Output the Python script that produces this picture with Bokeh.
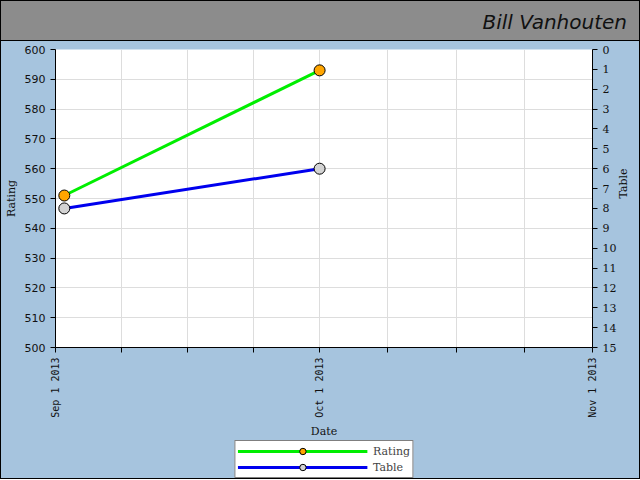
from datetime import datetime
import math
from bokeh.plotting import figure
from bokeh.models import (Range1d, LinearAxis, FixedTicker, Legend, LegendItem, Div)
from bokeh.layouts import column
from bokeh.embed import file_html
from bokeh.resources import INLINE

# ---- data ----
title_text = "Bill Vanhouten"
dates = [datetime(2013, 9, 2), datetime(2013, 10, 1)]
rating = [551, 593]
table = [8, 6]
month_starts = [datetime(2013, 9, 1), datetime(2013, 10, 1), datetime(2013, 11, 1)]
month_labels = ["Sep 1 2013", "Oct 1 2013", "Nov 1 2013"]
rating_ticks = list(range(500, 601, 10))
table_ticks = list(range(0, 16))

BG = "#a6c4de"
RATING_LINE, RATING_FILL = "#00ee00", "#ffa500"
TABLE_LINE, TABLE_FILL = "#0000ee", "#d3d3d3"


def ms(d):
    return (d - datetime(1970, 1, 1)).total_seconds() * 1000.0


major = [ms(d) for d in month_starts]
minor = []
for a, b in zip(major[:-1], major[1:]):
    for f in (0.25, 0.5, 0.75):
        minor.append(a + (b - a) * f)

W = 638

header = Div(text=title_text, width=W, height=40, margin=0,
             styles={"background-color": "#8c8c8c", "border-bottom": "1px solid black",
                     "text-align": "right", "font-family": "DejaVu Sans", "font-style": "italic",
                     "font-size": "20px", "color": "#111", "box-sizing": "border-box",
                     "padding": "7px 12px 0 0"})

p = figure(width=W, height=399, x_axis_type="datetime",
           x_range=Range1d(major[0], major[-1]), y_range=Range1d(500, 600),
           output_backend="svg", toolbar_location=None,
           background_fill_color="white", border_fill_color=BG,
           min_border_top=8, min_border_left=54, min_border_right=41,
           min_border_bottom=4, margin=0)
p.outline_line_color = None

p.extra_y_ranges = {"table": Range1d(15, 0)}

# x axis
xa = p.xaxis[0]
xa.ticker = FixedTicker(ticks=major, minor_ticks=minor)
xa.major_label_overrides = {m: lab for m, lab in zip(major, month_labels)}
xa.major_label_orientation = math.pi / 2
xa.axis_label = "Date"
xa.minor_tick_out = 5
xa.minor_tick_in = 0
xa.major_tick_out = 5
xa.major_tick_in = 0
xa.major_label_text_font = "DejaVu Sans Mono"
xa.major_label_text_font_size = "10px"

# left axis
ya = p.yaxis[0]
ya.ticker = FixedTicker(ticks=rating_ticks)
ya.axis_label = "Rating"
ya.major_label_text_font = "DejaVu Sans"
ya.major_label_text_font_size = "11px"
ya.major_tick_out = 5
ya.major_tick_in = 0
ya.minor_tick_out = 0

# right axis
ra = LinearAxis(y_range_name="table", axis_label="Table", ticker=FixedTicker(ticks=table_ticks))
ra.major_label_text_font = "DejaVu Serif"
ra.major_label_text_font_size = "11px"
ra.major_tick_out = 5
ra.major_tick_in = 0
ra.minor_tick_out = 0
ra.axis_label_orientation = math.pi / 2
p.add_layout(ra, "right")

for ax in (xa, ya, ra):
    ax.axis_label_text_font = "DejaVu Serif"
    ax.axis_label_text_font_size = "11px"
    ax.axis_label_text_font_style = "normal"
    ax.axis_label_standoff = 4
    ax.axis_line_color = "black"
    ax.major_tick_line_color = "black"
    ax.minor_tick_line_color = "black"
    ax.major_label_text_color = "#111"
    ax.axis_label_text_color = "#111"

p.xgrid.grid_line_color = "#dddddd"
p.xgrid.minor_grid_line_color = "#dddddd"
p.ygrid.grid_line_color = "#dddddd"

p.line(dates, rating, line_color=RATING_LINE, line_width=3)
p.line(dates, table, line_color=TABLE_LINE, line_width=3, y_range_name="table")
p.scatter(dates, rating, size=11, fill_color=RATING_FILL, line_color="black")
p.scatter(dates, table, size=11, fill_color=TABLE_FILL, line_color="black",
          y_range_name="table")

# legend strip below the chart (its own small figure; data there lies off-view)
lf = figure(width=W, height=38, x_range=Range1d(0, 1), y_range=Range1d(0, 1),
            output_backend="svg", toolbar_location=None,
            x_axis_location=None, y_axis_location=None,
            background_fill_color=BG, border_fill_color=BG,
            min_border=0, margin=0)
lf.outline_line_color = None
lf.grid.visible = False
l1 = lf.line(dates, rating, line_color=RATING_LINE, line_width=3)
s1 = lf.scatter(dates, rating, size=11, fill_color=RATING_FILL, line_color="black")
l2 = lf.line(dates, table, line_color=TABLE_LINE, line_width=3)
s2 = lf.scatter(dates, table, size=11, fill_color=TABLE_FILL, line_color="black")

legend = Legend(items=[LegendItem(label="Rating", renderers=[l1, s1]),
                       LegendItem(label="Table", renderers=[l2, s2])],
                location="center", glyph_width=130, glyph_height=16,
                label_height=14, spacing=-2, padding=2, margin=0, label_standoff=6,
                border_line_color="black", background_fill_color="white",
                background_fill_alpha=1.0,
                label_text_font="DejaVu Serif", label_text_font_size="11px")
lf.add_layout(legend, "center")

layout = column(header, p, lf, spacing=0, margin=0,
                styles={"border": "1px solid black", "background-color": BG})

open("out.html", "w").write(file_html(layout, INLINE))
